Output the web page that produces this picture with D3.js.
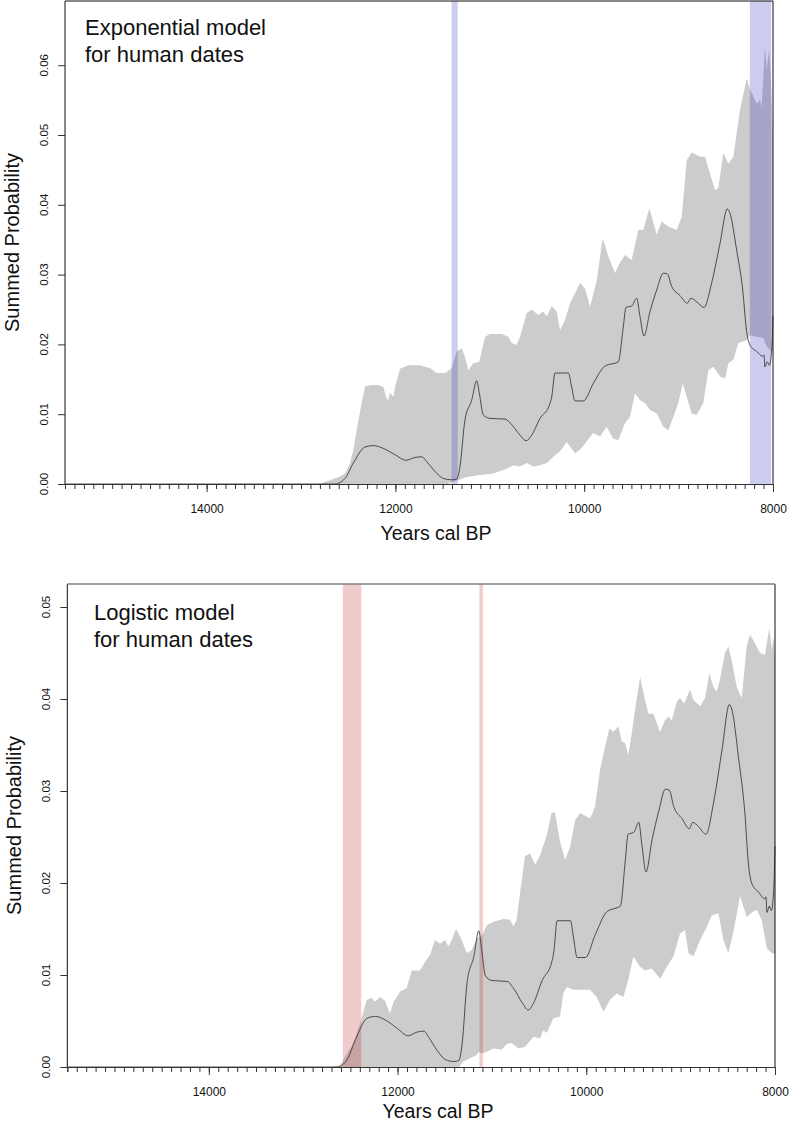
<!DOCTYPE html>
<html>
<head>
<meta charset="utf-8">
<script src="https://cdn.jsdelivr.net/npm/d3@7"></script>
<style>
  html, body { margin: 0; padding: 0; background: #fff; }
  svg text { font-family: "Liberation Sans", Arial, Helvetica, sans-serif; fill: #111; }
</style>
</head>
<body>
<svg id="chart" width="790" height="1124"></svg>
<script>
// ---------- DATA ----------
// Summed probability distribution (same in both panels): [year cal BP, value]
const spd = [[15500,0],[12700,0],[12640,0],[12534,0.0008],[12446,0.003],[12322,0.0053],[12234,0.0055],[12128,0.0051],[12004,0.0042],[11888,0.0034],[11792,0.0038],[11721,0.0039],[11668,0.0032],[11580,0.0018],[11492,0.0008],[11404,0.0006],[11351,0.0007],[11316,0.0025],[11263,0.0092],[11192,0.012],[11139,0.0148],[11111,0.013],[11069,0.0099],[10998,0.0094],[10839,0.0093],[10768,0.0085],[10680,0.007],[10616,0.0062],[10556,0.007],[10468,0.0094],[10369,0.0113],[10344,0.0125],[10309,0.0159],[10274,0.0159],[10168,0.0159],[10133,0.0139],[10097,0.0119],[10009,0.0119],[9904,0.0144],[9780,0.0169],[9639,0.0175],[9586,0.0225],[9557,0.0253],[9497,0.0255],[9444,0.0266],[9409,0.024],[9367,0.0212],[9303,0.0247],[9232,0.0278],[9162,0.0302],[9120,0.0301],[9073,0.0283],[8985,0.027],[8908,0.0259],[8872,0.0266],[8808,0.0261],[8731,0.0253],[8650,0.0288],[8561,0.0345],[8484,0.0394],[8456,0.0388],[8385,0.0335],[8321,0.0278],[8279,0.0218],[8244,0.0199],[8173,0.019],[8110,0.0183],[8096,0.0185],[8085,0.0168],[8060,0.0175],[8039,0.017],[8014,0.0192],[8000,0.024]];

// Exponential model envelope
const expUpper = [[15500,0],[12800,0],[12746,0.0003],[12600,0.001],[12534,0.0015],[12480,0.003],[12446,0.0049],[12380,0.01],[12322,0.014],[12250,0.0142],[12181,0.0142],[12128,0.0139],[12110,0.013],[12092,0.0123],[12075,0.012],[12057,0.0131],[12022,0.0125],[12004,0.0139],[11951,0.0165],[11864,0.017],[11740,0.017],[11633,0.0166],[11563,0.0159],[11475,0.0159],[11404,0.0166],[11351,0.019],[11298,0.0194],[11263,0.0182],[11228,0.0163],[11175,0.0173],[11111,0.0175],[11051,0.0211],[10998,0.0215],[10874,0.0215],[10804,0.0211],[10768,0.0202],[10715,0.0199],[10680,0.0211],[10609,0.0245],[10556,0.025],[10486,0.0242],[10433,0.0247],[10397,0.024],[10344,0.0255],[10291,0.0247],[10256,0.022],[10203,0.0235],[10150,0.0259],[10044,0.0288],[9991,0.028],[9938,0.0254],[9867,0.0292],[9804,0.0352],[9744,0.0326],[9673,0.0302],[9627,0.0316],[9568,0.0328],[9497,0.0321],[9427,0.0364],[9374,0.0364],[9310,0.0395],[9232,0.0357],[9179,0.0376],[9109,0.0369],[9020,0.0364],[8967,0.0383],[8914,0.0464],[8861,0.0475],[8773,0.0469],[8720,0.0469],[8667,0.0445],[8614,0.0421],[8579,0.0424],[8526,0.0474],[8473,0.0459],[8420,0.0469],[8350,0.0536],[8279,0.0581],[8244,0.0566],[8173,0.0545],[8138,0.055],[8120,0.054],[8085,0.0627],[8067,0.0593],[8042,0.0622],[8025,0.059],[8000,0.05]];
const expLower = [[15500,0],[11450,0],[11387,0.0003],[11245,0.001],[11104,0.0013],[10963,0.0015],[10821,0.0022],[10750,0.0027],[10680,0.0025],[10609,0.003],[10539,0.0025],[10468,0.0027],[10397,0.003],[10327,0.0039],[10256,0.0047],[10186,0.006],[10097,0.0044],[10044,0.0049],[9904,0.0073],[9833,0.0068],[9762,0.0082],[9692,0.0065],[9639,0.0063],[9568,0.0087],[9515,0.0096],[9462,0.013],[9409,0.012],[9356,0.0116],[9303,0.0106],[9232,0.0101],[9162,0.0082],[9109,0.0077],[9056,0.0096],[9003,0.0116],[8956,0.0144],[8914,0.0125],[8861,0.0101],[8808,0.0099],[8738,0.0116],[8685,0.0163],[8632,0.0168],[8561,0.0154],[8508,0.0151],[8473,0.0173],[8420,0.0178],[8367,0.0202],[8279,0.0206],[8244,0.0213],[8173,0.0211],[8102,0.0209],[8067,0.0197],[8032,0.0192],[8000,0.019]];

// Logistic model envelope
const logUpper = [[15500,0],[12700,0],[12610,0.0002],[12467,0.0026],[12398,0.0047],[12327,0.0073],[12274,0.0075],[12239,0.0071],[12186,0.0076],[12133,0.0072],[12080,0.0058],[12045,0.007],[11974,0.0082],[11903,0.0086],[11850,0.0105],[11762,0.0105],[11709,0.0114],[11656,0.0122],[11603,0.0138],[11550,0.0134],[11497,0.0138],[11462,0.0131],[11426,0.0138],[11380,0.015],[11320,0.0138],[11267,0.0124],[11214,0.0127],[11161,0.014],[11108,0.0142],[11055,0.0154],[10984,0.0158],[10878,0.0161],[10808,0.016],[10772,0.0153],[10737,0.016],[10702,0.0189],[10649,0.0229],[10596,0.0232],[10543,0.022],[10490,0.023],[10419,0.0252],[10366,0.0277],[10331,0.0276],[10278,0.0245],[10225,0.0225],[10172,0.0239],[10119,0.0268],[10066,0.0276],[9960,0.027],[9907,0.0283],[9854,0.0323],[9801,0.0348],[9755,0.0368],[9713,0.0364],[9660,0.037],[9624,0.0354],[9589,0.0352],[9554,0.0339],[9518,0.0363],[9473,0.0395],[9430,0.0424],[9377,0.0399],[9342,0.0384],[9289,0.0384],[9218,0.0364],[9165,0.0377],[9130,0.0381],[9094,0.0377],[9041,0.0397],[9006,0.0401],[8963,0.0395],[8900,0.041],[8865,0.0399],[8794,0.0392],[8741,0.0401],[8696,0.0428],[8653,0.0413],[8618,0.0408],[8583,0.0421],[8530,0.045],[8494,0.0457],[8459,0.0442],[8406,0.0413],[8353,0.0401],[8300,0.0457],[8264,0.047],[8211,0.046],[8159,0.045],[8106,0.0448],[8081,0.0464],[8060,0.0477],[8034,0.0453],[8017,0.0468],[8000,0.0446]];
const logLower = [[15500,0],[11350,0],[11303,0.0006],[11267,0.0008],[11161,0.0013],[11144,0.0016],[11091,0.0015],[10984,0.002],[10896,0.0019],[10843,0.0025],[10790,0.0026],[10720,0.002],[10649,0.0022],[10560,0.0033],[10490,0.0031],[10455,0.004],[10419,0.0037],[10349,0.0053],[10278,0.0055],[10243,0.008],[10207,0.0087],[10137,0.0084],[10031,0.0084],[9960,0.0084],[9889,0.0076],[9819,0.006],[9748,0.0073],[9677,0.008],[9607,0.0076],[9554,0.0095],[9501,0.012],[9430,0.0109],[9377,0.0105],[9306,0.0107],[9218,0.0096],[9147,0.0109],[9077,0.012],[9006,0.0145],[8953,0.0149],[8918,0.0124],[8865,0.012],[8794,0.0138],[8724,0.0152],[8670,0.0165],[8600,0.0167],[8547,0.0138],[8494,0.0124],[8441,0.0147],[8370,0.0186],[8300,0.0163],[8247,0.0168],[8194,0.0171],[8141,0.016],[8088,0.0129],[8034,0.0124],[8000,0.0123]];

// Highlighted intervals [from, to] in years cal BP
const expBands = [[11405, 11340], [8245, 8020]];
const logBands = [[12580, 12385], [11132, 11096]];

// Axis ticks
const xLabelTicks = [14000, 12000, 10000, 8000];
const expYTicks = [0, 0.01, 0.02, 0.03, 0.04, 0.05, 0.06];
const logYTicks = [0, 0.01, 0.02, 0.03, 0.04, 0.05];

const xDomain = [15500, 8000];
const titles = {
  exp: ["Exponential model", "for human dates"],
  log: ["Logistic model", "for human dates"]
};

// ---------- DRAWING ----------
const svg = d3.select("#chart");

function panel(cfg) {
  const g = svg.append("g");
  const x = d3.scaleLinear().domain(xDomain).range([cfg.left, cfg.right]);
  const y = d3.scaleLinear().domain([0, cfg.ymax]).range([cfg.bottom, cfg.top]);

  // envelope polygon
  const poly = cfg.upper.concat(cfg.lower.slice().reverse());
  g.append("path")
    .attr("d", d3.line().x(d => x(d[0])).y(d => y(d[1]))(poly) + "Z")
    .attr("fill", "#cccccc").attr("stroke", "none");

  // highlighted bands
  g.selectAll("rect.band").data(cfg.bands).enter().append("rect")
    .attr("class", "band")
    .attr("x", d => x(d[0]))
    .attr("width", d => x(d[1]) - x(d[0]))
    .attr("y", cfg.top)
    .attr("height", cfg.bottom - cfg.top)
    .attr("fill", cfg.bandColor);

  // SPD line
  g.append("path")
    .attr("d", d3.line().x(d => x(d[0])).y(d => y(d[1])).curve(d3.curveMonotoneX)(spd))
    .attr("fill", "none").attr("stroke", "#2b2b2b").attr("stroke-width", 0.8);

  // x axis
  const xAxis = d3.axisBottom(x).tickValues(d3.range(8000, 15501, 100)).tickSize(5).tickFormat("");
  const xa = g.append("g").attr("transform", `translate(0,${cfg.bottom})`).call(xAxis);
  xa.select(".domain").attr("stroke", "#333");
  xa.selectAll(".tick line").attr("stroke", "#333");
  const xMaj = d3.axisBottom(x).tickValues(xLabelTicks).tickSize(8).tickPadding(8).tickFormat(d3.format("d"));
  const xm = g.append("g").attr("transform", `translate(0,${cfg.bottom})`).call(xMaj);
  xm.attr("font-size", 12);
  xm.select(".domain").remove();
  xm.selectAll(".tick line").attr("stroke", "#333");
  xm.selectAll(".tick text").attr("font-size", 12).attr("fill", "#111").attr("dy", "1.1em");

  // y axis
  const yAxis = d3.axisLeft(y).tickValues(cfg.yTicks).tickSize(7).tickFormat(d3.format(".2f"));
  const ya = g.append("g").attr("transform", `translate(${cfg.left},0)`).call(yAxis);
  ya.select(".domain").remove();
  ya.selectAll(".tick line").attr("stroke", "#333");
  ya.selectAll(".tick text").remove();
  g.selectAll("text.ylab").data(cfg.yTicks).enter().append("text")
    .attr("class", "ylab")
    .attr("transform", d => `translate(${cfg.ylabX},${y(d)}) rotate(-90)`)
    .attr("text-anchor", "middle").attr("dy", "0.35em")
    .attr("font-size", 11.5)
    .text(d3.format(".2f"));

  // box
  g.append("line").attr("x1", cfg.left).attr("x2", cfg.left).attr("y1", cfg.top).attr("y2", cfg.bottom)
    .attr("stroke", "#111").attr("stroke-width", 1);
  g.append("line").attr("x1", cfg.right).attr("x2", cfg.right).attr("y1", cfg.top).attr("y2", cfg.bottom)
    .attr("stroke", "#111").attr("stroke-width", 1);
  g.append("line").attr("x1", cfg.left).attr("x2", cfg.right).attr("y1", cfg.top).attr("y2", cfg.top)
    .attr("stroke", cfg.topColor).attr("stroke-width", cfg.topWidth);

  // axis titles
  g.append("text")
    .attr("transform", `translate(${cfg.yTitleX},${(cfg.top + cfg.bottom) / 2}) rotate(-90)`)
    .attr("text-anchor", "middle").attr("dy", "0.35em")
    .attr("font-size", 20).text("Summed Probability");
  g.append("text")
    .attr("x", cfg.xTitleX).attr("y", cfg.xTitleY)
    .attr("text-anchor", "middle").attr("font-size", 19.5).text("Years cal BP");

  // panel title
  cfg.title.forEach((t, i) => {
    g.append("text").attr("x", cfg.titleX).attr("y", cfg.titleY + i * 26.5)
      .attr("font-size", 22).text(t);
  });
}

panel({
  left: 65, right: 773, top: 1, bottom: 484, ymax: 0.0692,
  upper: expUpper, lower: expLower, bands: expBands,
  bandColor: "rgba(40,40,190,0.24)", yTicks: expYTicks,
  ylabX: 43.5, yTitleX: 12, xTitleX: 436, xTitleY: 540,
  topColor: "#111", topWidth: 1,
  title: titles.exp, titleX: 85, titleY: 35
});

panel({
  left: 67.3, right: 775, top: 584, bottom: 1067, ymax: 0.0525,
  upper: logUpper, lower: logLower, bands: logBands,
  bandColor: "rgba(190,20,20,0.22)", yTicks: logYTicks,
  ylabX: 45.5, yTitleX: 14, xTitleX: 438, xTitleY: 1118,
  topColor: "#808080", topWidth: 1.4,
  title: titles.log, titleX: 94, titleY: 620
});
</script>
</body>
</html>
